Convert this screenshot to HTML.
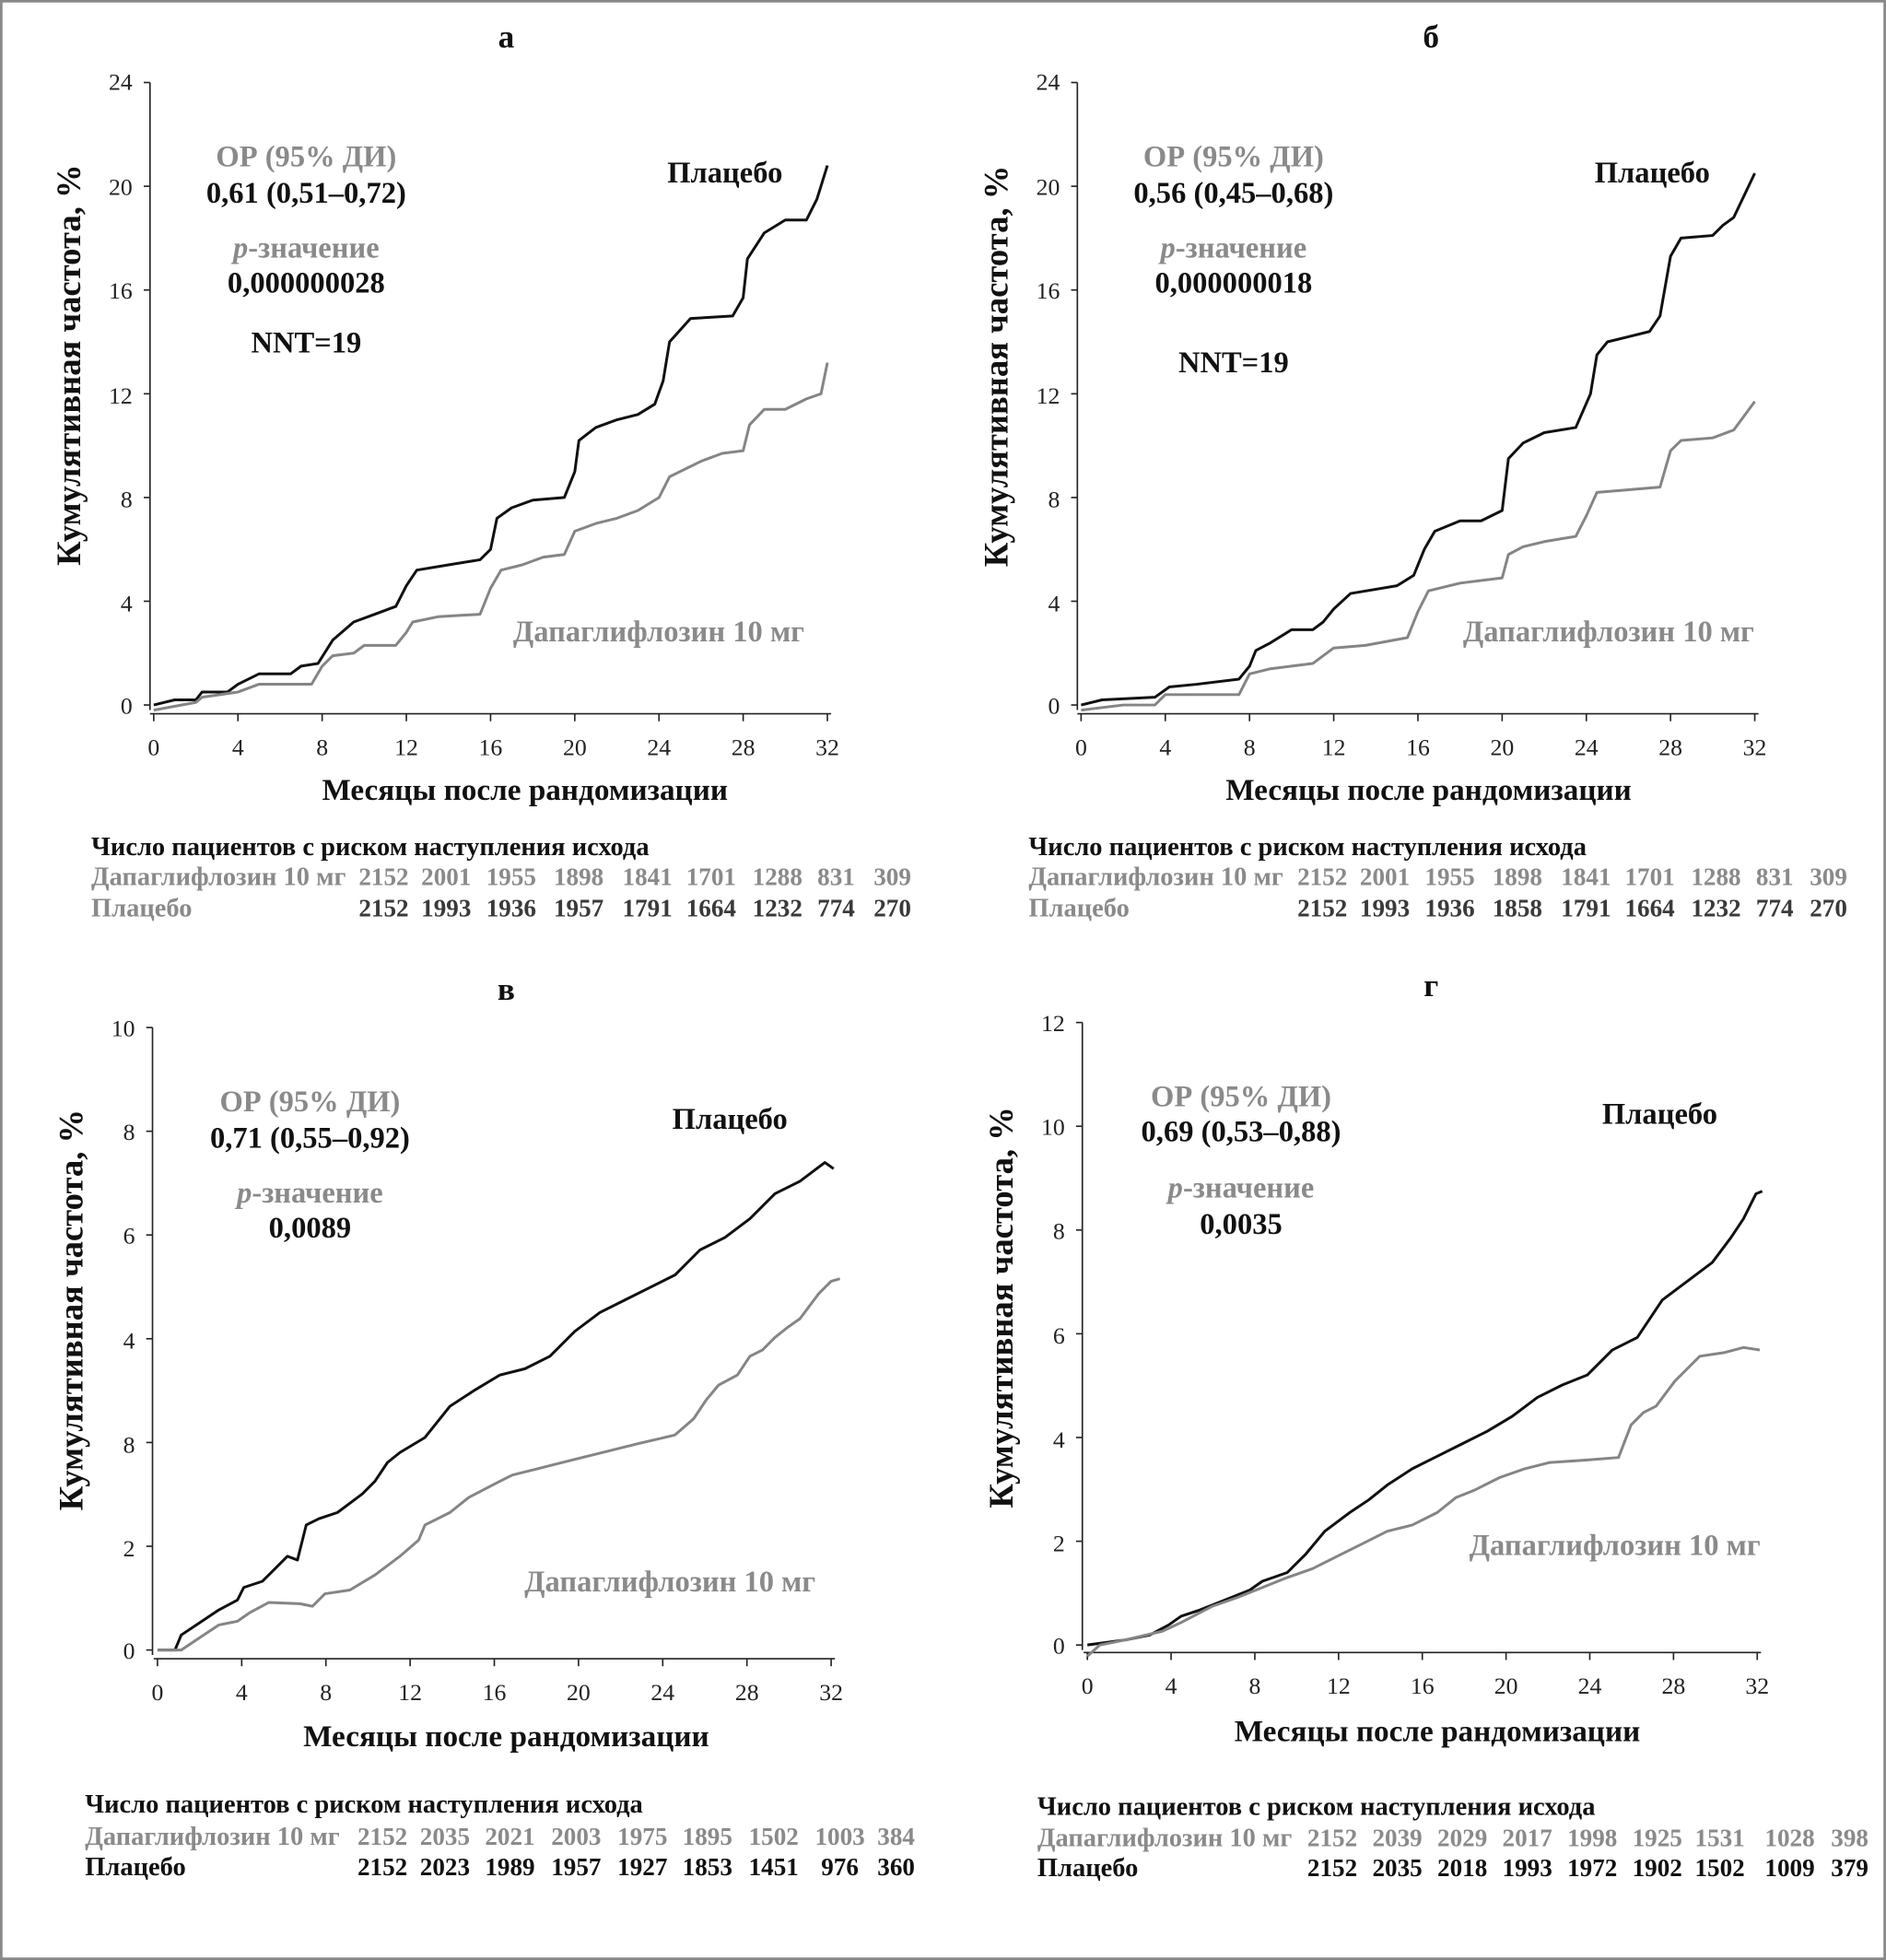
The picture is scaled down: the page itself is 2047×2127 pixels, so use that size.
<!DOCTYPE html>
<html><head><meta charset="utf-8"><style>
html,body{margin:0;padding:0;background:#fff}
svg{display:block}
text{font-family:"Liberation Serif","DejaVu Serif",serif}
.b{font-weight:bold}
.g{fill:#8a8a8a}
.k{fill:#111}
.t{font-size:19px;fill:#222}
</style></head><body>
<svg id="s" width="2047" height="2127" viewBox="0 0 1509 1568" xmlns="http://www.w3.org/2000/svg">
<rect x="1" y="1" width="1507" height="1566" fill="#fff" stroke="#888" stroke-width="2"/>
<g id="axes" stroke="#222" stroke-width="1.2" fill="none"></g>
<g id="curves" fill="none" stroke-width="2.2" stroke-linejoin="round"></g>

<!-- Panel a -->
<text x="405" y="38" text-anchor="middle" class="b k" font-size="26">а</text>
<text transform="translate(64,292) rotate(-90)" text-anchor="middle" class="b k" font-size="27">Кумулятивная частота, %</text>
<text x="245" y="133" text-anchor="middle" class="b g" font-size="24">ОР (95% ДИ)</text>
<text x="245" y="162" text-anchor="middle" class="b k" font-size="24">0,61 (0,51–0,72)</text>
<text x="245" y="206" text-anchor="middle" class="b g" font-size="24"><tspan font-style="italic">p</tspan>-значение</text>
<text x="245" y="234" text-anchor="middle" class="b k" font-size="24">0,000000028</text>
<text x="245" y="282" text-anchor="middle" class="b k" font-size="24">NNT=19</text>
<text x="580" y="146" text-anchor="middle" class="b k" font-size="24">Плацебо</text>
<text x="527" y="513" text-anchor="middle" class="b g" font-size="24">Дапаглифлозин 10 мг</text>
<text x="420" y="640" text-anchor="middle" class="b k" font-size="24.5">Месяцы после рандомизации</text>
<text x="73" y="684" class="b k" font-size="21">Число пациентов с риском наступления исхода</text>
<text x="73" y="708" class="b g" font-size="21">Дапаглифлозин 10 мг</text>
<text x="73" y="733" class="b g" font-size="21">Плацебо</text>

<!-- Panel b -->
<text x="1145" y="38" text-anchor="middle" class="b k" font-size="26">б</text>
<text transform="translate(806,293) rotate(-90)" text-anchor="middle" class="b k" font-size="27">Кумулятивная частота, %</text>
<text x="987" y="133" text-anchor="middle" class="b g" font-size="24">ОР (95% ДИ)</text>
<text x="987" y="162" text-anchor="middle" class="b k" font-size="24">0,56 (0,45–0,68)</text>
<text x="987" y="206" text-anchor="middle" class="b g" font-size="24"><tspan font-style="italic">p</tspan>-значение</text>
<text x="987" y="234" text-anchor="middle" class="b k" font-size="24">0,000000018</text>
<text x="987" y="298" text-anchor="middle" class="b k" font-size="24">NNT=19</text>
<text x="1322" y="146" text-anchor="middle" class="b k" font-size="24">Плацебо</text>
<text x="1287" y="513" text-anchor="middle" class="b g" font-size="24">Дапаглифлозин 10 мг</text>
<text x="1143" y="640" text-anchor="middle" class="b k" font-size="24.5">Месяцы после рандомизации</text>
<text x="823" y="684" class="b k" font-size="21">Число пациентов с риском наступления исхода</text>
<text x="823" y="708" class="b g" font-size="21">Дапаглифлозин 10 мг</text>
<text x="823" y="733" class="b g" font-size="21">Плацебо</text>

<!-- Panel c -->
<text x="405" y="800" text-anchor="middle" class="b k" font-size="26">в</text>
<text transform="translate(66,1048) rotate(-90)" text-anchor="middle" class="b k" font-size="27">Кумулятивная частота, %</text>
<text x="248" y="889" text-anchor="middle" class="b g" font-size="24">ОР (95% ДИ)</text>
<text x="248" y="918" text-anchor="middle" class="b k" font-size="24">0,71 (0,55–0,92)</text>
<text x="248" y="962" text-anchor="middle" class="b g" font-size="24"><tspan font-style="italic">p</tspan>-значение</text>
<text x="248" y="990" text-anchor="middle" class="b k" font-size="24">0,0089</text>
<text x="584" y="903" text-anchor="middle" class="b k" font-size="24">Плацебо</text>
<text x="536" y="1273" text-anchor="middle" class="b g" font-size="24">Дапаглифлозин 10 мг</text>
<text x="405" y="1397" text-anchor="middle" class="b k" font-size="24.5">Месяцы после рандомизации</text>
<text x="68" y="1450" class="b k" font-size="21">Число пациентов с риском наступления исхода</text>
<text x="68" y="1476" class="b g" font-size="21">Дапаглифлозин 10 мг</text>
<text x="68" y="1500" class="b k" font-size="21">Плацебо</text>

<!-- Panel d -->
<text x="1145" y="797" text-anchor="middle" class="b k" font-size="26">г</text>
<text transform="translate(810,1046) rotate(-90)" text-anchor="middle" class="b k" font-size="27">Кумулятивная частота, %</text>
<text x="993" y="885" text-anchor="middle" class="b g" font-size="24">ОР (95% ДИ)</text>
<text x="993" y="913" text-anchor="middle" class="b k" font-size="24">0,69 (0,53–0,88)</text>
<text x="993" y="958" text-anchor="middle" class="b g" font-size="24"><tspan font-style="italic">p</tspan>-значение</text>
<text x="993" y="987" text-anchor="middle" class="b k" font-size="24">0,0035</text>
<text x="1328" y="899" text-anchor="middle" class="b k" font-size="24">Плацебо</text>
<text x="1292" y="1244" text-anchor="middle" class="b g" font-size="24">Дапаглифлозин 10 мг</text>
<text x="1150" y="1393" text-anchor="middle" class="b k" font-size="24.5">Месяцы после рандомизации</text>
<text x="830" y="1452" class="b k" font-size="21">Число пациентов с риском наступления исхода</text>
<text x="830" y="1477" class="b g" font-size="21">Дапаглифлозин 10 мг</text>
<text x="830" y="1501" class="b k" font-size="21">Плацебо</text>

<!-- risk numbers -->
<g class="b g" font-size="20" text-anchor="middle">
<text x="307" y="708">2152</text><text x="357" y="708">2001</text><text x="409" y="708">1955</text><text x="463" y="708">1898</text><text x="518" y="708">1841</text><text x="569" y="708">1701</text><text x="622" y="708">1288</text><text x="669" y="708">831</text><text x="714" y="708">309</text>
<text x="1058" y="708">2152</text><text x="1108" y="708">2001</text><text x="1160" y="708">1955</text><text x="1214" y="708">1898</text><text x="1269" y="708">1841</text><text x="1320" y="708">1701</text><text x="1373" y="708">1288</text><text x="1420" y="708">831</text><text x="1463" y="708">309</text>
<text x="306" y="1476">2152</text><text x="356" y="1476">2035</text><text x="408" y="1476">2021</text><text x="461" y="1476">2003</text><text x="514" y="1476">1975</text><text x="566" y="1476">1895</text><text x="619" y="1476">1502</text><text x="672" y="1476">1003</text><text x="717" y="1476">384</text>
<text x="1066" y="1477">2152</text><text x="1118" y="1477">2039</text><text x="1170" y="1477">2029</text><text x="1222" y="1477">2017</text><text x="1274" y="1477">1998</text><text x="1326" y="1477">1925</text><text x="1376" y="1477">1531</text><text x="1432" y="1477">1028</text><text x="1480" y="1477">398</text>
</g>
<g class="b" font-size="20" text-anchor="middle" fill="#3a3a3a">
<text x="307" y="733">2152</text><text x="357" y="733">1993</text><text x="409" y="733">1936</text><text x="463" y="733">1957</text><text x="518" y="733">1791</text><text x="569" y="733">1664</text><text x="622" y="733">1232</text><text x="669" y="733">774</text><text x="714" y="733">270</text>
<text x="1058" y="733">2152</text><text x="1108" y="733">1993</text><text x="1160" y="733">1936</text><text x="1214" y="733">1858</text><text x="1269" y="733">1791</text><text x="1320" y="733">1664</text><text x="1373" y="733">1232</text><text x="1420" y="733">774</text><text x="1463" y="733">270</text>
</g>
<g class="b k" font-size="20" text-anchor="middle">
<text x="306" y="1500">2152</text><text x="356" y="1500">2023</text><text x="408" y="1500">1989</text><text x="461" y="1500">1957</text><text x="514" y="1500">1927</text><text x="566" y="1500">1853</text><text x="619" y="1500">1451</text><text x="672" y="1500">976</text><text x="717" y="1500">360</text>
<text x="1066" y="1501">2152</text><text x="1118" y="1501">2035</text><text x="1170" y="1501">2018</text><text x="1222" y="1501">1993</text><text x="1274" y="1501">1972</text><text x="1326" y="1501">1902</text><text x="1376" y="1501">1502</text><text x="1432" y="1501">1009</text><text x="1480" y="1501">379</text>
</g>

<!-- tick labels -->
<g class="t" text-anchor="end">
<text x="106" y="72">24</text><text x="106" y="156">20</text><text x="106" y="239">16</text><text x="106" y="323">12</text><text x="106" y="406">8</text><text x="106" y="489">4</text><text x="106" y="571">0</text>
<text x="848" y="72">24</text><text x="848" y="156">20</text><text x="848" y="239">16</text><text x="848" y="323">12</text><text x="848" y="406">8</text><text x="848" y="489">4</text><text x="848" y="571">0</text>
<text x="108" y="829">10</text><text x="108" y="912">8</text><text x="108" y="995">6</text><text x="108" y="1079">4</text><text x="108" y="1162">8</text><text x="108" y="1245">2</text><text x="108" y="1327">0</text>
<text x="852" y="825">12</text><text x="852" y="908">10</text><text x="852" y="991">8</text><text x="852" y="1075">6</text><text x="852" y="1158">4</text><text x="852" y="1241">2</text><text x="852" y="1323">0</text>
</g>
<g class="t" text-anchor="middle" id="xt"></g>
</svg>
<script>
var NS="http://www.w3.org/2000/svg";
function el(p,n,a,t){var e=document.createElementNS(NS,n);for(var k in a)e.setAttribute(k,a[k]);if(t)e.textContent=t;document.getElementById(p).appendChild(e);return e;}
var P=[[120,66,564,571,123,662,6],[862,66,564,571,865,1404,6],[122,822,1320,1327,126,665,6],[866,818,1316,1322,870,1406,6]];
P.forEach(function(p){
 var ax=p[0];
 el("axes","line",{x1:ax,y1:p[1],x2:ax,y2:p[2]+4});
 for(var i=0;i<=p[6];i++){var y=p[1]+(p[2]-p[1])*i/p[6];el("axes","line",{x1:ax-5,y1:y,x2:ax,y2:y});}
 el("axes","line",{x1:p[4]-3,y1:p[3],x2:p[5]+3,y2:p[3]});
 for(var j=0;j<=8;j++){var x=p[4]+(p[5]-p[4])*j/8;el("axes","line",{x1:x,y1:p[3],x2:x,y2:p[3]+6});el("xt","text",{x:x,y:p[3]+33},""+(j*4));}
});
function pathM(p,pts,max,col){var d="";pts.forEach(function(q,i){var x=p[4]+(p[5]-p[4])*q[0]/32,y=p[2]-(p[2]-p[1])*q[1]/max;d+=(i?"L":"M")+x.toFixed(1)+","+y.toFixed(1);});el("curves","path",{d:d,stroke:col});}
function pathP(pts,col){var d="";pts.forEach(function(q,i){d+=(i?"L":"M")+q[0]+","+q[1];});el("curves","path",{d:d,stroke:col});}
var K="#111",G="#858585";
pathM(P[0],[[0,0],[1,0.2],[2,0.2],[2.3,0.5],[3.5,0.5],[4,0.8],[5,1.2],[6.5,1.2],[7,1.5],[7.8,1.6],[8.5,2.5],[9.5,3.2],[10.5,3.5],[11.5,3.8],[12,4.6],[12.5,5.2],[14,5.4],[15.5,5.6],[16,6.0],[16.3,7.2],[17,7.6],[18,7.9],[19.5,8.0],[20,9],[20.2,10.2],[21,10.7],[22,11.0],[23,11.2],[23.8,11.6],[24.2,12.5],[24.5,14.0],[25.5,14.9],[27.5,15.0],[28,15.7],[28.2,17.2],[29,18.2],[30,18.7],[31,18.7],[31.5,19.5],[32,20.8]],24,K);
pathM(P[0],[[0,-0.2],[2,0.1],[2.3,0.3],[4,0.5],[5,0.8],[7.5,0.8],[8,1.5],[8.5,1.9],[9.5,2.0],[10,2.3],[11.5,2.3],[12,2.8],[12.3,3.2],[13.5,3.4],[15.5,3.5],[16,4.5],[16.5,5.2],[17.5,5.4],[18.5,5.7],[19.5,5.8],[20,6.7],[21,7.0],[22,7.2],[23,7.5],[24,8.0],[24.5,8.8],[26,9.4],[27,9.7],[28,9.8],[28.3,10.8],[29,11.4],[30,11.4],[31,11.8],[31.7,12.0],[32,13.2]],24,G);
pathM(P[1],[[0,0],[1,0.2],[3.5,0.3],[4.2,0.7],[5.5,0.8],[7.5,1.0],[8,1.5],[8.3,2.1],[9,2.4],[10,2.9],[11,2.9],[11.5,3.2],[12,3.7],[12.8,4.3],[15,4.6],[15.8,5.0],[16.3,6.0],[16.8,6.7],[18,7.1],[19,7.1],[20,7.5],[20.3,9.5],[21,10.1],[22,10.5],[23.5,10.7],[24.2,12.0],[24.5,13.5],[25,14.0],[26,14.2],[27,14.4],[27.5,15.0],[28,17.3],[28.5,18.0],[30,18.1],[30.5,18.5],[31,18.8],[32,20.5]],24,K);
pathM(P[1],[[0,-0.2],[2,0],[3.5,0],[4,0.4],[7.5,0.4],[8,1.2],[9,1.4],[10,1.5],[11,1.6],[12,2.2],[13.5,2.3],[15.5,2.6],[16,3.6],[16.5,4.4],[18,4.7],[20,4.9],[20.3,5.8],[21,6.1],[22,6.3],[23.5,6.5],[24,7.3],[24.5,8.2],[26,8.3],[27.5,8.4],[28,9.8],[28.5,10.2],[30,10.3],[31,10.6],[32,11.7]],24,G);
pathP([[126,1320],[140,1320],[145,1308],[160,1298],[175,1288],[190,1280],[195,1270],[210,1265],[220,1255],[230,1245],[238,1248],[245,1220],[255,1215],[270,1210],[290,1195],[300,1185],[310,1170],[320,1162],[340,1150],[360,1125],[380,1112],[400,1100],[420,1095],[440,1085],[460,1065],[480,1050],[500,1040],[520,1030],[540,1020],[560,1000],[580,990],[600,975],[620,955],[640,945],[660,930],[667,935]],K);
pathP([[126,1320],[145,1320],[160,1310],[175,1300],[190,1297],[200,1290],[215,1282],[240,1283],[250,1285],[260,1275],[280,1272],[300,1260],[320,1245],[335,1232],[340,1220],[360,1210],[375,1198],[400,1185],[410,1180],[430,1175],[450,1170],[470,1165],[490,1160],[510,1155],[540,1148],[555,1135],[565,1120],[575,1108],[590,1100],[600,1085],[610,1080],[620,1070],[630,1062],[640,1055],[655,1035],[665,1025],[672,1023]],G);
pathP([[870,1316],[900,1312],[920,1308],[935,1300],[945,1293],[960,1288],[980,1280],[1000,1272],[1010,1265],[1030,1258],[1045,1243],[1060,1225],[1080,1210],[1095,1200],[1110,1188],[1130,1175],[1150,1165],[1170,1155],[1190,1145],[1210,1133],[1230,1118],[1250,1108],[1270,1100],[1290,1080],[1310,1070],[1330,1040],[1350,1025],[1370,1010],[1385,990],[1395,975],[1405,955],[1410,953]],K);
pathP([[870,1325],[880,1316],[900,1312],[930,1305],[945,1298],[970,1285],[990,1278],[1010,1270],[1030,1262],[1050,1255],[1070,1245],[1090,1235],[1110,1225],[1130,1220],[1150,1210],[1165,1198],[1180,1192],[1200,1182],[1220,1175],[1240,1170],[1270,1168],[1295,1166],[1305,1140],[1315,1130],[1325,1125],[1340,1105],[1350,1095],[1360,1085],[1380,1082],[1395,1078],[1408,1080]],G);
</script>
</body></html>
